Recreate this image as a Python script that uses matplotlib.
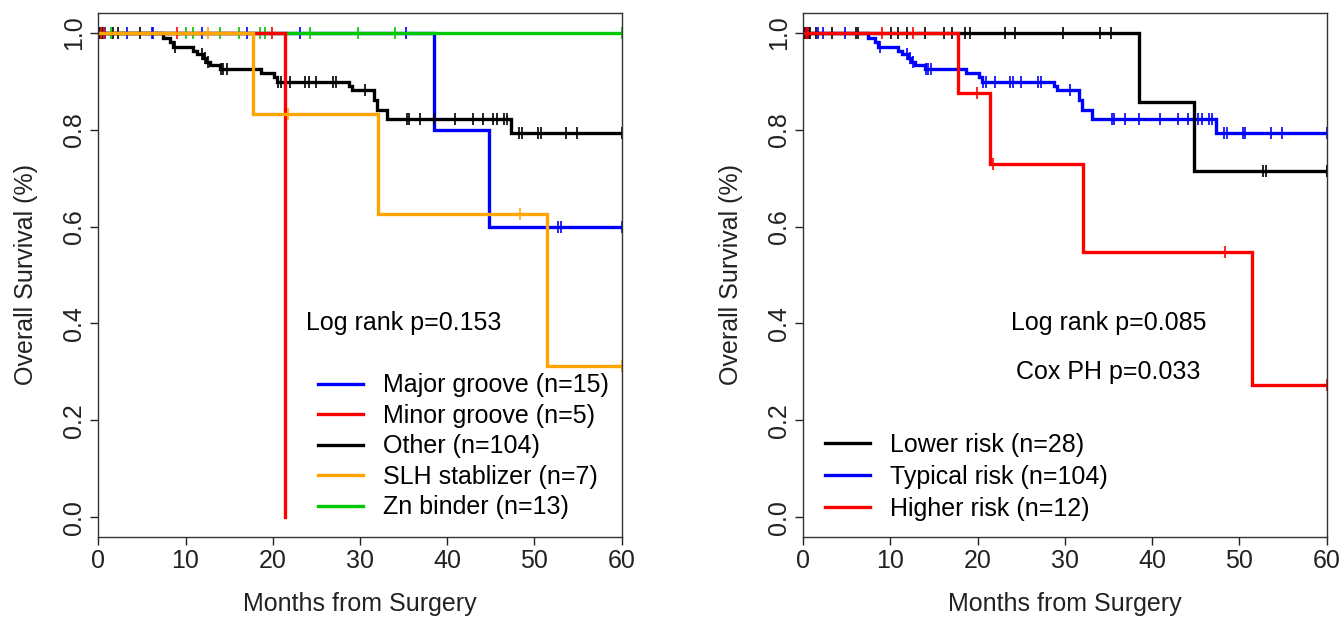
import numpy as np
import matplotlib
matplotlib.use("Agg")
import matplotlib.pyplot as plt

plt.rcParams["font.family"] = ["Liberation Sans", "DejaVu Sans"]
plt.rcParams["font.size"] = 18

# ---- Left panel: by binding class ----
major_t = [38.5, 44.8]
major_s = [0.800, 0.600]
major_cens = [0.2, 0.5, 0.8, 3.3, 6.1, 6.3, 11.9, 17.0, 23.1, 35.3, 52.7, 53.1, 60.0]

minor_t = [21.4]
minor_s = [0.0]
minor_cens = [0.3, 0.6, 9.0, 19.9]

other_t = [7.4, 8.2, 8.6, 10.9, 11.3, 12.0, 12.4, 12.8, 14.0, 18.7, 20.1, 20.5,
           28.7, 29.1, 31.6, 31.9, 33.1, 47.3]
other_s = [0.990, 0.981, 0.971, 0.962, 0.955, 0.948, 0.940, 0.934, 0.926, 0.916,
           0.908, 0.899, 0.889, 0.881, 0.861, 0.841, 0.821, 0.794]
other_cens = [0.2, 0.4, 0.7, 1.7, 2.3, 4.8, 8.8, 11.9, 12.2, 12.6, 14.1, 14.3,
              14.7, 20.6, 21.0, 22.0, 23.7, 24.1, 25.0, 26.9, 27.3, 30.6, 35.4,
              35.6, 36.9, 38.5, 40.9, 43.0, 44.1, 45.3, 45.7, 46.5, 46.9, 48.2,
              48.6, 50.4, 50.7, 53.6, 54.9, 60.0]

slh_t = [17.7, 32.1, 51.4]
slh_s = [0.833, 0.625, 0.3125]
slh_cens = [12.6, 21.7, 48.3, 60.0]

zn_t = []
zn_s = []
zn_cens = [0.3, 0.7, 1.5, 10.1, 10.9, 14.0, 16.1, 18.5, 19.1, 24.3, 29.8, 34.0, 60.0]

# ---- Right panel: risk groups ----
lower_t = [38.5, 44.8]
lower_s = [0.857, 0.714]
lower_cens = sorted(major_cens + zn_cens)

typical_t = other_t
typical_s = other_s
typical_cens = other_cens

higher_t = [17.7, 21.4, 32.1, 51.4]
higher_s = [0.875, 0.729, 0.547, 0.273]
higher_cens = sorted(minor_cens + slh_cens)

BLUE = "#0000FF"
RED = "#FF0000"
ORANGE = "#FFA500"
GREEN = "#00C800"


def km_curve(ax, t, s, cens, color, label, z):
    t = list(t)
    s = list(s)
    end = max(t + cens)
    xs = [0.0] + t
    ys = [1.0] + s
    if end > xs[-1]:
        xs.append(end)
        ys.append(ys[-1])
    ax.step(xs, ys, where="post", color=color, lw=2.4, label=label,
            zorder=z, solid_joinstyle="miter")
    idx = np.searchsorted(np.array(t, dtype=float), cens, side="right")
    cy = np.r_[1.0, s][idx]
    ax.plot(cens, cy, ls="none", marker="|", ms=8, mew=1.2, color=color,
            zorder=z)


def style_axes(ax):
    ax.set_xlim(0, 60)
    ax.set_ylim(-0.04, 1.04)
    ax.set_xticks([0, 10, 20, 30, 40, 50, 60])
    ax.set_yticks([0.0, 0.2, 0.4, 0.6, 0.8, 1.0])
    ax.set_yticklabels(["0.0", "0.2", "0.4", "0.6", "0.8", "1.0"],
                       rotation=90, va="center")
    ax.tick_params(length=6, width=1, pad=3, colors="#222222",
                   labelcolor="#222222")
    for sp in ax.spines.values():
        sp.set_linewidth(1.0)
        sp.set_color("#333333")
    ax.set_xlabel("Months from Surgery", color="#222222")
    ax.set_ylabel("Overall Survival (%)", color="#222222")
    ax.xaxis.set_label_coords(0.5, -0.105)
    ax.yaxis.set_label_coords(-0.115, 0.5)


fig = plt.figure(figsize=(13.43, 6.19), dpi=100)
ax1 = fig.add_axes([0.0732, 0.133, 0.3897, 0.8455])
ax2 = fig.add_axes([0.5981, 0.133, 0.3897, 0.8455])

km_curve(ax1, major_t, major_s, major_cens, BLUE, "Major groove (n=15)", 2.0)
km_curve(ax1, minor_t, minor_s, minor_cens, RED, "Minor groove (n=5)", 2.3)
km_curve(ax1, other_t, other_s, other_cens, "black", "Other (n=104)", 2.1)
km_curve(ax1, slh_t, slh_s, slh_cens, ORANGE, "SLH stablizer (n=7)", 2.4)
km_curve(ax1, zn_t, zn_s, zn_cens, GREEN, "Zn binder (n=13)", 2.2)
style_axes(ax1)
ax1.text(35, 0.4, "Log rank p=0.153", ha="center", va="center")
ax1.legend(loc="upper left", bbox_to_anchor=(0.42, 0.312), frameon=False,
           borderpad=0, borderaxespad=0, handlelength=1.8,
           handletextpad=0.8, labelspacing=0.26)

km_curve(ax2, lower_t, lower_s, lower_cens, "black", "Lower risk (n=28)", 2.1)
km_curve(ax2, typical_t, typical_s, typical_cens, BLUE, "Typical risk (n=104)", 2.0)
km_curve(ax2, higher_t, higher_s, higher_cens, RED, "Higher risk (n=12)", 2.3)
style_axes(ax2)
ax2.text(35, 0.4, "Log rank p=0.085", ha="center", va="center")
ax2.text(35, 0.3, "Cox PH p=0.033", ha="center", va="center")
ax2.legend(loc="upper left", bbox_to_anchor=(0.0415, 0.199), frameon=False,
           borderpad=0, borderaxespad=0, handlelength=1.8,
           handletextpad=0.8, labelspacing=0.33)

fig.savefig("out.png", dpi=100)
